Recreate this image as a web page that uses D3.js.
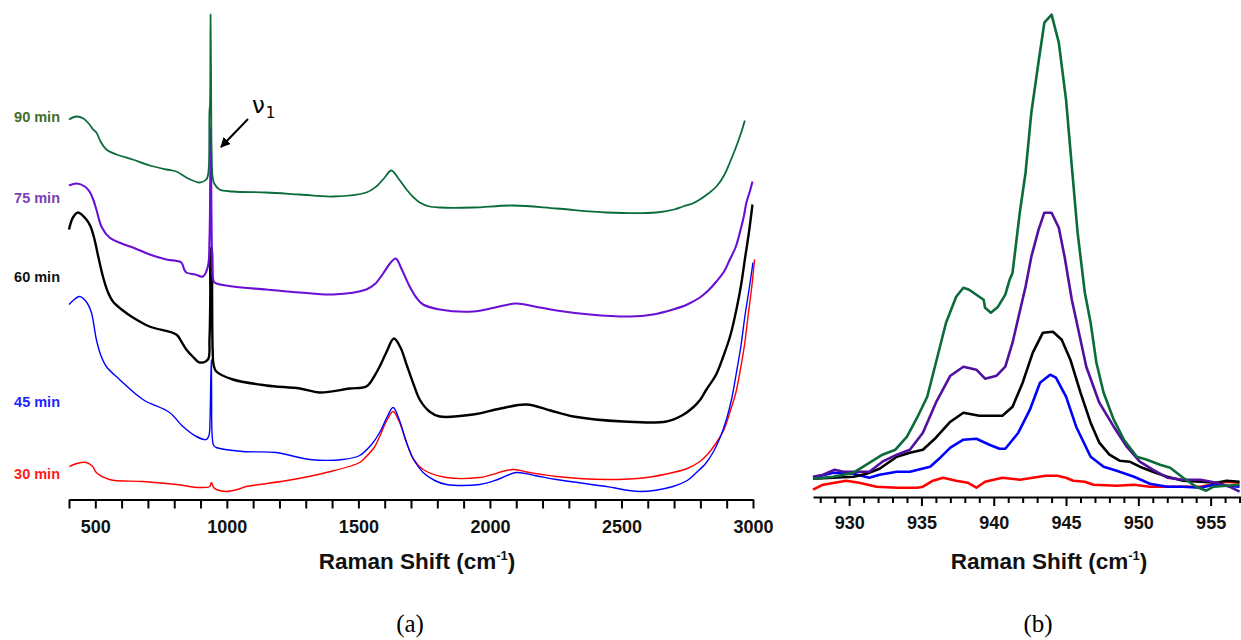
<!DOCTYPE html>
<html>
<head>
<meta charset="utf-8">
<script src="https://cdn.jsdelivr.net/npm/d3@7"></script>
<style>
  html, body { margin: 0; padding: 0; background: #fff; }
  svg { display: block; }
  .tick text { font-family: "Liberation Sans", Arial, sans-serif; font-weight: bold; font-size: 18px; fill: #111; }
</style>
</head>
<body>
<svg id="chart" width="1241" height="640"></svg>
<script>
// ---------- Panel (a): full spectra, [Raman shift cm-1, intensity a.u.] ----------
const times = ["30 min", "45 min", "60 min", "75 min", "90 min"];
const seriesColors = ["#ff0000", "#0000ff", "#000000", "#6a0fd4", "#0b6b3a"];
const labelColors = ["#ff1a1a", "#1f1fff", "#111111", "#7a3fb0", "#436b2c"];
const panelBColors = ["#ff0000", "#0000ff", "#000000", "#5210a0", "#0b6b3a"];

const spec30 = [[402,33],[430,36],[466,37],[490,33],[504,27],[554,20],[681,18],[808,15],[897,12],[935,13],[941,17],[950,12],[960,10],[998,8],[1040,10],[1074,13],[1125,15],[1251,20],[1378,27],[1505,37],[1530,43],[1560,52],[1581,63],[1610,80],[1632,88],[1655,78],[1683,57],[1710,40],[1746,30],[1835,22],[1961,22],[2088,30],[2150,27],[2253,23],[2443,20],[2595,22],[2696,27],[2750,31],[2798,38],[2830,46],[2861,57],[2890,70],[2912,87],[2935,107],[2950,127],[2968,155],[2981,183],[2995,212],[3006,240]];
const spec45 = [[400,195],[420,200],[440,203],[465,198],[485,187],[504,160],[520,145],[542,133],[592,120],[681,100],[782,87],[833,73],[884,63],[922,60],[932,64],[936,80],[939,120],[941,140],[942,110],[944,65],[950,54],[960,52],[1061,48],[1188,47],[1315,40],[1441,40],[1505,44],[1550,55],[1581,67],[1610,83],[1632,92],[1655,80],[1683,57],[1710,40],[1746,27],[1790,19],[1835,15],[1961,15],[2030,20],[2100,27],[2170,24],[2253,20],[2443,13],[2570,8],[2696,13],[2750,19],[2785,27],[2820,36],[2848,47],[2875,62],[2899,80],[2920,102],[2937,127],[2955,155],[2969,183],[2985,210],[3000,237]];
const spec60 = [[400,270],[415,282],[434,287],[466,280],[482,273],[497,260],[512,242],[529,223],[547,208],[567,198],[600,190],[643,182],[706,173],[808,165],[827,158],[846,150],[870,143],[897,137],[928,140],[934,160],[937,200],[939,250],[942,252],[944,200],[946,150],[950,134],[960,128],[1023,120],[1150,114],[1277,111],[1353,107],[1467,111],[1530,113],[1560,123],[1581,133],[1606,147],[1635,161],[1660,152],[1683,135],[1710,115],[1733,100],[1770,88],[1809,83],[1936,85],[2040,91],[2139,95],[2230,89],[2317,83],[2507,78],[2671,78],[2730,84],[2772,92],[2800,100],[2823,110],[2860,125],[2887,143],[2915,165],[2937,190],[2955,215],[2969,240],[2985,268],[2998,295]];
const spec75 = [[400,314],[430,316],[460,313],[478,308],[492,300],[504,290],[525,272],[554,262],[600,256],[643,252],[707,245],[770,240],[827,237],[838,230],[846,227],[880,225],[909,223],[928,233],[934,260],[937,320],[939,372],[941,300],[944,238],[947,222],[953,217],[1023,213],[1150,210],[1277,207],[1404,205],[1530,210],[1565,216],[1594,226],[1620,236],[1642,241],[1665,230],[1695,213],[1720,202],[1746,195],[1809,190],[1936,188],[2020,192],[2100,196],[2170,193],[2253,189],[2380,185],[2532,183],[2620,185],[2696,190],[2750,195],[2798,202],[2830,209],[2861,218],[2890,228],[2912,240],[2935,253],[2950,267],[2965,283],[2975,297],[2988,308],[2998,318]];
const spec90 = [[400,380],[428,383],[455,381],[478,375],[492,370],[504,367],[520,358],[542,350],[580,345],[642,340],[707,334],[770,330],[808,328],[846,322],[897,317],[922,320],[928,324],[932,335],[934,388],[936,395],[938,485],[940,420],[942,350],[946,322],[952,316],[972,310],[1023,308],[1150,307],[1277,305],[1404,303],[1530,307],[1568,313],[1600,322],[1625,329],[1655,320],[1683,310],[1710,302],[1733,297],[1770,293],[1809,292],[1936,292],[2088,294],[2253,291],[2443,287],[2633,287],[2700,290],[2734,293],[2770,296],[2798,300],[2830,306],[2861,313],[2890,324],[2912,337],[2932,350],[2950,363],[2960,371],[2969,379]];

// ---------- Panel (b): zoom on ν1 band ----------
const zoom30 = [[927.5,7],[928.2,12],[929.8,16],[930.7,14],[931.9,10],[933.3,9],[934.7,9],[935.1,10],[935.8,16],[936.5,19],[937.4,16],[938.2,14],[938.8,9],[939.4,15],[940.6,19],[941.8,17],[942.7,19],[943.6,21],[944.4,21],[945.0,19],[945.5,16],[946.3,15],[946.9,12],[948.5,11],[949.7,12],[950.8,10],[952.0,10],[954.3,10],[956.1,15],[957.0,14]];
const zoom45 = [[927.5,19],[928.9,24],[930.3,23],[931.4,19],[932.1,22],[933.3,25],[934.2,25],[935.6,30],[936.3,39],[937.0,49],[937.9,57],[938.8,58],[939.7,52],[940.4,48],[940.8,48],[941.7,64],[942.5,87],[943.2,114],[943.9,122],[944.3,119],[945.0,100],[945.7,70],[946.7,40],[947.6,30],[948.5,26],[949.7,20],[950.8,13],[952.0,10],[953.1,10],[954.3,9],[955.2,12],[957.0,10]];
const zoom60 = [[927.5,18],[928.9,19],[930.3,20],[931.2,23],[932.1,28],[933.3,40],[934.2,44],[935.1,47],[936.0,59],[937.0,75],[937.9,84],[939.0,81],[940.6,81],[941.3,90],[942.0,114],[942.7,144],[943.4,164],[944.1,165],[944.7,157],[945.3,137],[946.0,104],[946.7,74],[947.3,54],[948.0,42],[948.7,36],[949.4,35],[950.1,30],[951.0,25],[952.0,20],[953.1,16],[954.3,15],[955.4,14],[956.1,16],[957.0,15]];
const zoom75 = [[927.5,20],[928.2,22],[929.0,27],[929.6,25],[930.5,25],[931.4,25],[932.3,35],[933.3,42],[934.2,47],[935.1,64],[936.0,94],[937.0,121],[937.9,130],[938.8,127],[939.4,118],[940.2,121],[940.8,130],[941.3,154],[941.7,179],[942.2,210],[942.6,240],[943.1,267],[943.5,284],[944.0,284],[944.5,269],[944.9,240],[945.4,197],[945.7,177],[946.4,130],[947.3,94],[948.3,70],[949.2,50],[950.1,35],[951.0,27],[952.0,19],[953.1,17],[954.3,17],[955.4,14],[956.3,10],[957.0,5]];
const zoom90 = [[927.5,18],[928.9,20],[930.3,24],[931.2,32],[932.3,42],[933.2,47],[934.0,60],[934.7,79],[935.4,100],[936.0,134],[936.7,174],[937.4,200],[937.9,209],[938.3,207],[939.3,197],[939.4,189],[939.8,184],[940.3,190],[940.8,202],[941.1,217],[941.3,224],[941.8,284],[942.2,324],[942.6,384],[943.1,435],[943.5,474],[944.0,482],[944.5,454],[945.0,397],[945.4,330],[945.8,264],[946.3,204],[946.7,174],[947.1,134],[947.6,104],[948.3,77],[949.0,57],[949.9,40],[950.6,37],[951.5,32],[952.2,29],[953.1,19],[954.0,10],[954.7,6],[955.2,10],[956.1,11],[957.0,12]];

const fullSpectra = [spec30, spec45, spec60, spec75, spec90];
const zoomSpectra = [zoom30, zoom45, zoom60, zoom75, zoom90];

const fullTicks = d3.range(400, 3001, 100);
const fullTickLabels = [500, 1000, 1500, 2000, 2500, 3000];
const zoomTicks = d3.range(928, 958, 1);
const zoomTickLabels = [930, 935, 940, 945, 950, 955];
const xTitle = "Raman Shift (cm";
const panelLetters = ["(a)", "(b)"];

// ---------- drawing ----------
const svg = d3.select("#chart");

// Panel (a)
const xA = d3.scaleLinear().domain([400, 3000]).range([69, 753]);
const yA = d3.scaleLinear().domain([0, 480]).range([499.5, 19.5]);
const lineA = d3.line().x(d => xA(d[0])).y(d => yA(d[1])).curve(d3.curveCatmullRom.alpha(0.5));
const widthsA = [1.4, 1.4, 2.4, 2.1, 1.8];

fullSpectra.forEach((s, i) => {
  svg.append("path").datum(s).attr("d", lineA)
    .attr("fill", "none").attr("stroke", seriesColors[i])
    .attr("stroke-width", widthsA[i]).attr("stroke-linejoin", "round");
});

const axA = svg.append("g").attr("transform", "translate(0,499.5)")
  .call(d3.axisBottom(xA).tickValues(fullTicks).tickSize(9).tickSizeOuter(0).tickPadding(12)
    .tickFormat(d => fullTickLabels.includes(d) ? d : ""));
axA.select(".domain").attr("stroke", "#000").attr("stroke-width", 2);
axA.selectAll(".tick line").attr("stroke", "#000").attr("stroke-width", 2);

// series labels
const labY = [479, 406.5, 281.5, 203, 121.5];
times.forEach((t, i) => {
  svg.append("text").attr("x", 60).attr("y", labY[i]).attr("text-anchor", "end")
    .attr("font-family", "Liberation Sans, Arial, sans-serif").attr("font-weight", "bold")
    .attr("font-size", 14.5).attr("fill", labelColors[i]).text(t);
});

// nu1 annotation
svg.append("defs").append("marker").attr("id", "arr").attr("viewBox", "0 0 10 10")
  .attr("refX", 9).attr("refY", 5).attr("markerWidth", 5).attr("markerHeight", 5)
  .attr("orient", "auto").append("path").attr("d", "M0,0 L10,5 L0,10 z").attr("fill", "#000");
svg.append("line").attr("x1", 248).attr("y1", 119).attr("x2", 221).attr("y2", 147)
  .attr("stroke", "#000").attr("stroke-width", 2).attr("marker-end", "url(#arr)");
const nu = svg.append("text").attr("x", 252).attr("y", 113)
  .attr("font-family", "DejaVu Sans, sans-serif").attr("font-size", 23).attr("fill", "#000");
nu.append("tspan").text("ν");
nu.append("tspan").attr("font-size", 15).attr("dy", 5).attr("dx", 1).text("1");

// Panel (b)
const xB = d3.scaleLinear().domain([927.5, 957.1]).range([813, 1241]);
const yB = d3.scaleLinear().domain([0, 480]).range([496.7, 16.7]);
const lineB = d3.line().x(d => xB(d[0])).y(d => yB(d[1])).curve(d3.curveLinear);

zoomSpectra.forEach((s, i) => {
  svg.append("path").datum(s).attr("d", lineB)
    .attr("fill", "none").attr("stroke", panelBColors[i])
    .attr("stroke-width", 2.6).attr("stroke-linejoin", "round");
});

const axB = svg.append("g").attr("transform", "translate(0,497)")
  .call(d3.axisBottom(xB).tickValues(zoomTicks).tickSize(9).tickSizeOuter(0).tickPadding(10)
    .tickFormat(d => zoomTickLabels.includes(d) ? d : ""));
axB.select(".domain").attr("stroke", "#000").attr("stroke-width", 2);
axB.selectAll(".tick line").attr("stroke", "#000").attr("stroke-width", 2)
  .attr("y2", d => zoomTickLabels.includes(d) ? 9 : 6);

// axis titles
function title(cx, y) {
  const t = svg.append("text").attr("x", cx).attr("y", y).attr("text-anchor", "middle")
    .attr("font-family", "Liberation Sans, Arial, sans-serif").attr("font-weight", "bold")
    .attr("font-size", 22.5).attr("fill", "#111");
  t.append("tspan").text(xTitle);
  t.append("tspan").attr("font-size", 13).attr("dy", -9).text("-1");
  t.append("tspan").attr("dy", 9).text(")");
}
title(417, 569);
title(1049, 568.5);

// panel letters
[[410, panelLetters[0]], [1038, panelLetters[1]]].forEach(([x, s]) => {
  svg.append("text").attr("x", x).attr("y", 632).attr("text-anchor", "middle")
    .attr("font-family", "Liberation Serif, Times New Roman, serif")
    .attr("font-size", 25).attr("fill", "#000").text(s);
});
</script>
</body>
</html>
